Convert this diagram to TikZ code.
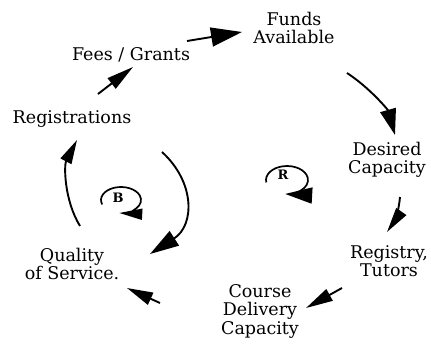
\documentclass[tikz,border=0pt]{standalone}
\usepackage{fontspec}
\setmainfont{DejaVu Serif}
\usetikzlibrary{arrows.meta}
\begin{document}
\begin{tikzpicture}[x=1pt,y=-1pt,
  var/.style={align=center,inner sep=0pt,font=\fontsize{17.5}{18.5}\selectfont},
  link/.style={line width=1.9pt,-{Triangle[length=27pt,width=13pt]}},
  loopmark/.style={line width=1.7pt},
  looplabel/.style={inner sep=0pt,font=\fontsize{13}{13}\selectfont\bfseries}]
\useasboundingbox (0,0) rectangle (431,349);

% variables
\node[var] (funds)    at (294,28)  {Funds\\Available};
\node[var] (fees)     at (131,55)  {Fees / Grants};
\node[var] (reg)      at (72,119)  {Registrations};
\node[var] (desired)  at (387,160) {Desired\\Capacity};
\node[var] (registry) at (389,261) {Registry,\\Tutors};
\node[var] (course)   at (260,311) {Course\\Delivery\\Capacity};
\node[var] (quality)  at (72,264)  {Quality\\of Service.};

% causal links
\draw[link] (98,94) -- (133,67);
\draw[link,-{Triangle[length=31pt,width=19pt]}] (187,41) -- (242,32);
\draw[link,-{Triangle[length=26pt,width=16pt]}] (347,73) .. controls (370,88) and (388,110) .. (395,135);
\draw[link,-{Triangle[length=25pt,width=12pt]}] (400,197) .. controls (399,210) and (394,222) .. (387,232);
\draw[link] (342,288) -- (306,308);
\draw[link,-{Triangle[length=26pt,width=13pt]}] (160,303) -- (127,288);
\draw[link,-{Triangle[length=24pt,width=12pt]}] (80,226) .. controls (64,200) and (64,165) .. (77,140);
\coordinate (bstart) at (162,152);
\draw[link,-{Triangle[length=29pt,width=17pt]}] (bstart) .. controls (195,182) and (195,225) .. (150,254);

% loop markers
\node[looplabel] (bmark) at (118,198) {B};
\draw[loopmark,-{Triangle[length=23pt,width=11pt]}]
  (121,200) ++(160:20 and 13) arc[start angle=160,end angle=455,x radius=20,y radius=13];
\node[looplabel] (rmark) at (283,175) {R};
\draw[loopmark,-{Triangle[length=27pt,width=16pt]}]
  (287,180) ++(170:21 and 14) arc[start angle=170,end angle=455,x radius=21,y radius=14];
\end{tikzpicture}
\end{document}
